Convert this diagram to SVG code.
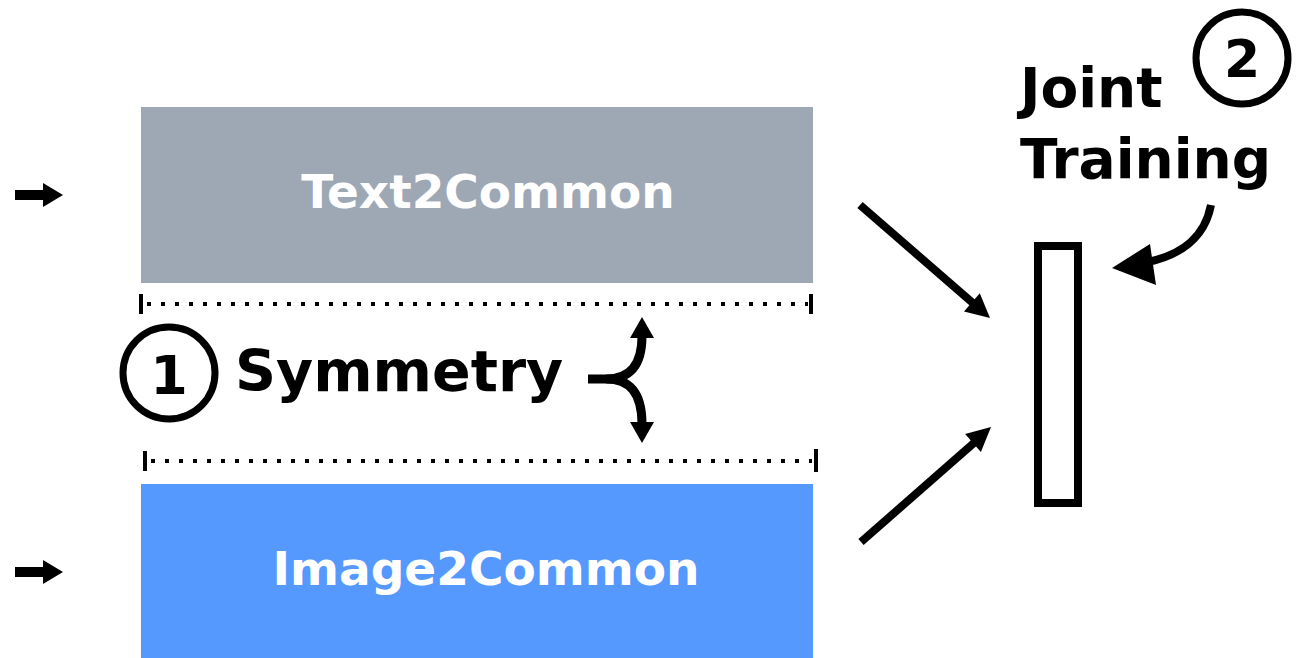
<svg xmlns="http://www.w3.org/2000/svg" width="1299" height="658" viewBox="0 0 1299 658">
<style>
.lbl{font-family:"DejaVu Sans","Liberation Sans",sans-serif;font-weight:bold;fill:#000}
.box{font-family:"DejaVu Sans","Liberation Sans",sans-serif;font-weight:bold;fill:#fff;font-size:47px}
.ln{stroke:#000;fill:none}
.dot{stroke:#000;stroke-width:4;stroke-dasharray:4 10;fill:none}
.hd{fill:#000}
</style>
<rect width="1299" height="658" fill="#fff"/>
<g id="text2common">
<rect x="141" y="107" width="672" height="176" fill="#9ea8b5"/>
<text class="box" x="488" y="208" text-anchor="middle">Text2Common</text>
</g>
<g id="image2common">
<rect x="141" y="484" width="672" height="174" fill="#5599ff"/>
<text class="box" x="486" y="585" text-anchor="middle">Image2Common</text>
</g>
<g id="joint">
<rect x="1038" y="246" width="40" height="257" fill="#fff" stroke="#000" stroke-width="8"/>
</g>
<g id="symmetry">
<circle cx="169" cy="373" r="46" fill="none" stroke="#000" stroke-width="7"/>
<text class="lbl" x="169" y="394" font-size="54" text-anchor="middle">1</text>
<text class="lbl" x="235" y="391" font-size="57">Symmetry</text>
</g>
<g id="jointlabel">
<circle cx="1242" cy="58" r="46" fill="none" stroke="#000" stroke-width="7"/>
<text class="lbl" x="1242" y="77" font-size="52" text-anchor="middle">2</text>
<text class="lbl" x="1020" y="107" font-size="55">Joint</text>
<text class="lbl" x="1020" y="178" font-size="55">Training</text>
</g>
<g id="connectors">
<path class="dot" d="M147,304 H808"/>
<path class="ln" stroke-width="4" d="M141,294 V314 M811,294 V314"/>
<path class="dot" d="M151,461 H812"/>
<path class="ln" stroke-width="4" d="M145,451 V471 M816,449 V472"/>
<path class="ln" stroke-width="10" d="M15,195 H45"/>
<path class="hd" d="M43,183 L63,195 L43,207 z"/>
<path class="ln" stroke-width="10" d="M15,572 H45"/>
<path class="hd" d="M43,560 L63,572 L43,584 z"/>
<path class="ln" stroke-width="9" d="M588,379 H606 C630,379 642,365 642,336"/>
<path class="hd" d="M630,338 L642,317 L654,338 z"/>
<path class="ln" stroke-width="9" d="M606,379 C630,379 642,393 642,424"/>
<path class="hd" d="M630,422 L642,443 L654,422 z"/>
<path class="ln" stroke-width="8" d="M860,205 L974,304"/>
<path class="hd" d="M964,311.4 L990,318 L979.8,293.2 z"/>
<path class="ln" stroke-width="8" d="M861,542 L975,442"/>
<path class="hd" d="M980.9,451.9 L991,427 L965.1,433.9 z"/>
<path class="ln" stroke-width="8" d="M1211,205 C1205,236 1184,254 1148,262"/>
<path class="hd" d="M1112,268 L1150,244 L1156,285 z"/>
</g>
</svg>
